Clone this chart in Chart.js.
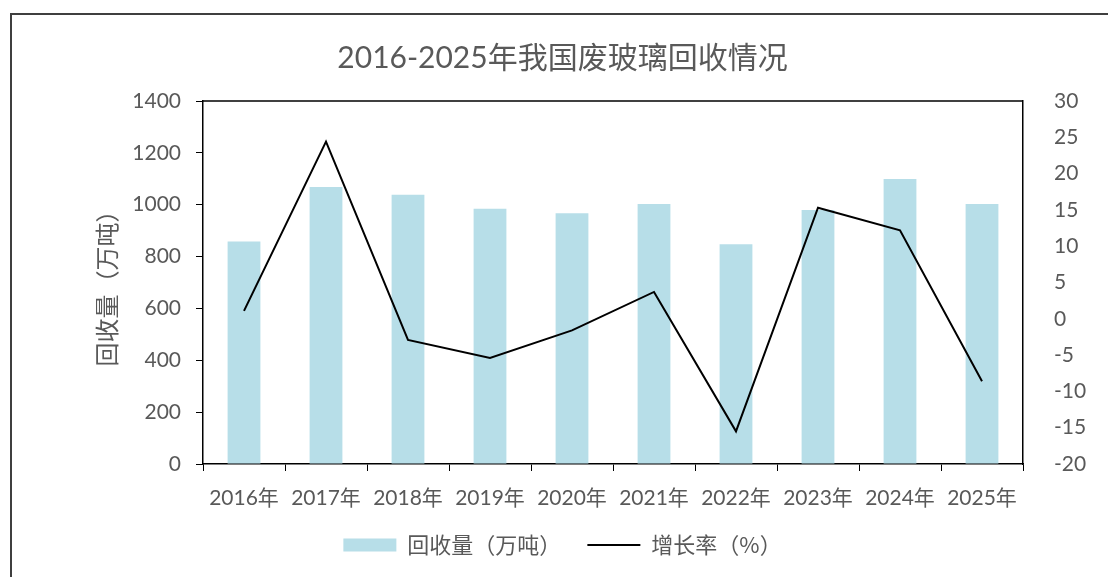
<!DOCTYPE html>
<html>
<head>
<meta charset="utf-8">
<script src="https://cdn.jsdelivr.net/npm/chart.js"></script>
<style>
    html, body { margin: 0; padding: 0; background: #fff; }
    #wrap { position: relative; width: 1108px; height: 577px; overflow: hidden; }
    #frame {
        position: absolute; left: 10px; top: 13px; width: 1200px; height: 700px;
        border-left: 2px solid #3f3f3f; border-top: 2px solid #3f3f3f;
        pointer-events: none;
    }
</style>
</head>
<body>
<div id="wrap">
    <canvas id="glassChart" width="1108" height="577"></canvas>
    <div id="frame"></div>
</div>
<script>
// ===========================
// Data
// ===========================
const years = ['2016年', '2017年', '2018年', '2019年', '2020年', '2021年', '2022年', '2023年', '2024年', '2025年'];
const recoveryVolume = [858, 1068, 1038, 984, 967, 1003, 848, 980, 1099, 1003];   // 万吨
const growthRate = [1.1, 24.4, -2.9, -5.4, -1.6, 3.7, -15.5, 15.3, 12.2, -8.6];   // %

const volumeAxis = { min: 0, max: 1400, step: 200 };
const rateAxis = { min: -20, max: 30, step: 5 };

const textColor = '#595959';
const fontFamily = "Lato, 'Noto Sans CJK SC', sans-serif";
const cjkFamily = "'Noto Sans CJK SC', Lato, sans-serif";

// top edge of the plot box
const plotBorder = {
    id: 'plotBorder',
    afterDatasetsDraw(chart) {
        const { ctx, chartArea: a } = chart;
        ctx.save();
        ctx.strokeStyle = '#000';
        ctx.lineWidth = 1.5;
        ctx.beginPath();
        ctx.moveTo(a.left, a.top);
        ctx.lineTo(a.right, a.top);
        ctx.stroke();
        ctx.restore();
    }
};

const ctx = document.getElementById('glassChart').getContext('2d');
const glassChart = new Chart(ctx, {
    data: {
        labels: years,
        datasets: [{
            type: 'bar',
            label: '回收量（万吨）',
            data: recoveryVolume,
            backgroundColor: '#B7DEE8',
            borderWidth: 0,
            barPercentage: 0.4,
            categoryPercentage: 1,
            pointStyle: 'rect',
            yAxisID: 'y',
            order: 2
        }, {
            type: 'line',
            label: '增长率（%）',
            data: growthRate,
            borderColor: '#000',
            backgroundColor: '#000',
            borderWidth: 2,
            pointRadius: 0,
            tension: 0,
            pointStyle: 'line',
            yAxisID: 'y1',
            order: 1
        }]
    },
    options: {
        responsive: false,
        animation: false,
        layout: {
            padding: { top: 0, left: 17, right: 0, bottom: 11 }
        },
        plugins: {
            title: {
                display: true,
                text: '2016-2025年我国废玻璃回收情况',
                color: textColor,
                font: { family: fontFamily, size: 30, weight: 'normal' },
                padding: { top: 40, bottom: 25 }
            },
            legend: {
                position: 'bottom',
                labels: {
                    usePointStyle: true,
                    pointStyleWidth: 53,
                    boxHeight: 13,
                    padding: 26,
                    color: textColor,
                    font: { family: cjkFamily, size: 22 },
                    sort: (a, b) => a.datasetIndex - b.datasetIndex
                }
            },
            tooltip: { enabled: false }
        },
        scales: {
            x: {
                afterFit: s => { s.height = 44; },
                ticks: {
                    color: textColor,
                    padding: 15,
                    maxRotation: 0,
                    font: { family: fontFamily, size: 21 }
                },
                grid: {
                    display: true,
                    drawOnChartArea: false,
                    tickLength: 7,
                    color: '#000',
                    offset: true
                },
                border: { color: '#000', width: 1.5 }
            },
            y: {
                position: 'left',
                min: volumeAxis.min,
                max: volumeAxis.max,
                afterFit: s => { s.width = 186; },
                ticks: {
                    stepSize: volumeAxis.step,
                    format: { useGrouping: false },
                    color: textColor,
                    padding: 15,
                    font: { family: fontFamily, size: 21 }
                },
                grid: {
                    drawOnChartArea: false,
                    tickLength: 7,
                    color: '#000'
                },
                border: { color: '#000', width: 1.5 },
                title: {
                    display: true,
                    text: '回收量（万吨）',
                    color: textColor,
                    font: { family: cjkFamily, size: 24 },
                    padding: { top: 75, bottom: 0 }
                }
            },
            y1: {
                position: 'right',
                min: rateAxis.min,
                max: rateAxis.max,
                afterFit: s => { s.width = 85; },
                ticks: {
                    stepSize: rateAxis.step,
                    color: textColor,
                    padding: 23,
                    font: { family: fontFamily, size: 21 }
                },
                grid: { display: false },
                border: { display: true, color: '#000', width: 1.5 }
            }
        }
    },
    plugins: [plotBorder]
});
</script>
</body>
</html>
